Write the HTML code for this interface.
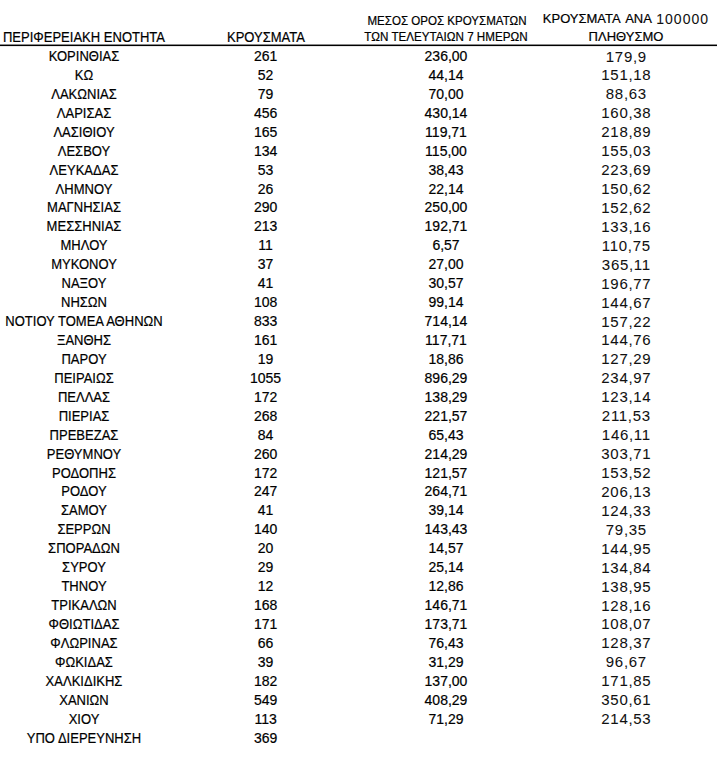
<!DOCTYPE html>
<html><head><meta charset="utf-8"><style>
html,body{margin:0;padding:0;background:#fff;width:720px;height:759px;overflow:hidden}
body{position:relative;font-family:"Liberation Sans",sans-serif;color:#000;-webkit-text-stroke:0.2px #000}
.t{position:absolute;white-space:nowrap;line-height:20px;height:20px;width:300px;text-align:center}
.line{position:absolute;left:0;top:44px;width:717px;height:3px;background:linear-gradient(#8a8a8a 0 1px,#000 1px 2px,#e8e8e8 2px 3px)}
</style></head><body>
<div class="t" style="left:-66.00px;top:27.36px;font-size:14px;transform:scaleX(0.93);">ΠΕΡΙΦΕΡΕΙΑΚΗ ΕΝΟΤΗΤΑ</div>
<div class="t" style="left:116.00px;top:27.36px;font-size:14px;transform:scaleX(0.93);">ΚΡΟΥΣΜΑΤΑ</div>
<div class="t" style="left:296.50px;top:10.89px;font-size:12px;transform:scaleX(0.963);">ΜΕΣΟΣ ΟΡΟΣ ΚΡΟΥΣΜΑΤΩΝ</div>
<div class="t" style="left:296.00px;top:27.19px;font-size:12px;transform:scaleX(0.97);">ΤΩΝ ΤΕΛΕΥΤΑΙΩΝ 7 ΗΜΕΡΩΝ</div>
<div class="t" style="left:542.8px;top:8.97px;font-size:13px;text-align:left;width:auto">ΚΡΟΥΣΜΑΤΑ</div>
<div class="t" style="left:625.2px;top:8.97px;font-size:13px;text-align:left;width:auto">ΑΝΑ</div>
<div class="t" style="left:656.3px;top:9.16px;font-size:14px;letter-spacing:1px;text-align:left;width:auto;-webkit-text-stroke:0.05px #000;color:#111">100000</div>
<div class="t" style="left:476.00px;top:26.87px;font-size:13px;">ΠΛΗΘΥΣΜΟ</div>
<div class="line"></div>
<div class="t" style="left:-66.00px;top:46.06px;font-size:14px;transform:scaleX(0.93);">ΚΟΡΙΝΘΙΑΣ</div>
<div class="t" style="left:115.60px;top:46.06px;font-size:14px;">261</div>
<div class="t" style="left:296.00px;top:46.06px;font-size:14px;">236,00</div>
<div class="t" style="left:476.35px;top:46.54px;font-size:15px;letter-spacing:0.7px;-webkit-text-stroke:0.05px #000;color:#111">179,9</div>
<div class="t" style="left:-66.00px;top:64.98px;font-size:14px;transform:scaleX(0.93);">ΚΩ</div>
<div class="t" style="left:115.60px;top:64.98px;font-size:14px;">52</div>
<div class="t" style="left:296.00px;top:64.98px;font-size:14px;">44,14</div>
<div class="t" style="left:476.35px;top:65.47px;font-size:15px;letter-spacing:0.7px;-webkit-text-stroke:0.05px #000;color:#111">151,18</div>
<div class="t" style="left:-66.00px;top:83.92px;font-size:14px;transform:scaleX(0.93);">ΛΑΚΩΝΙΑΣ</div>
<div class="t" style="left:115.60px;top:83.92px;font-size:14px;">79</div>
<div class="t" style="left:296.00px;top:83.92px;font-size:14px;">70,00</div>
<div class="t" style="left:476.35px;top:84.40px;font-size:15px;letter-spacing:0.7px;-webkit-text-stroke:0.05px #000;color:#111">88,63</div>
<div class="t" style="left:-66.00px;top:102.85px;font-size:14px;transform:scaleX(0.93);">ΛΑΡΙΣΑΣ</div>
<div class="t" style="left:115.60px;top:102.85px;font-size:14px;">456</div>
<div class="t" style="left:296.00px;top:102.85px;font-size:14px;">430,14</div>
<div class="t" style="left:476.35px;top:103.33px;font-size:15px;letter-spacing:0.7px;-webkit-text-stroke:0.05px #000;color:#111">160,38</div>
<div class="t" style="left:-66.00px;top:121.78px;font-size:14px;transform:scaleX(0.93);">ΛΑΣΙΘΙΟΥ</div>
<div class="t" style="left:115.60px;top:121.78px;font-size:14px;">165</div>
<div class="t" style="left:296.00px;top:121.78px;font-size:14px;">119,71</div>
<div class="t" style="left:476.35px;top:122.26px;font-size:15px;letter-spacing:0.7px;-webkit-text-stroke:0.05px #000;color:#111">218,89</div>
<div class="t" style="left:-66.00px;top:140.71px;font-size:14px;transform:scaleX(0.93);">ΛΕΣΒΟΥ</div>
<div class="t" style="left:115.60px;top:140.71px;font-size:14px;">134</div>
<div class="t" style="left:296.00px;top:140.71px;font-size:14px;">115,00</div>
<div class="t" style="left:476.35px;top:141.19px;font-size:15px;letter-spacing:0.7px;-webkit-text-stroke:0.05px #000;color:#111">155,03</div>
<div class="t" style="left:-66.00px;top:159.63px;font-size:14px;transform:scaleX(0.93);">ΛΕΥΚΑΔΑΣ</div>
<div class="t" style="left:115.60px;top:159.63px;font-size:14px;">53</div>
<div class="t" style="left:296.00px;top:159.63px;font-size:14px;">38,43</div>
<div class="t" style="left:476.35px;top:160.12px;font-size:15px;letter-spacing:0.7px;-webkit-text-stroke:0.05px #000;color:#111">223,69</div>
<div class="t" style="left:-66.00px;top:178.56px;font-size:14px;transform:scaleX(0.93);">ΛΗΜΝΟΥ</div>
<div class="t" style="left:115.60px;top:178.56px;font-size:14px;">26</div>
<div class="t" style="left:296.00px;top:178.56px;font-size:14px;">22,14</div>
<div class="t" style="left:476.35px;top:179.05px;font-size:15px;letter-spacing:0.7px;-webkit-text-stroke:0.05px #000;color:#111">150,62</div>
<div class="t" style="left:-66.00px;top:197.49px;font-size:14px;transform:scaleX(0.93);">ΜΑΓΝΗΣΙΑΣ</div>
<div class="t" style="left:115.60px;top:197.49px;font-size:14px;">290</div>
<div class="t" style="left:296.00px;top:197.49px;font-size:14px;">250,00</div>
<div class="t" style="left:476.35px;top:197.98px;font-size:15px;letter-spacing:0.7px;-webkit-text-stroke:0.05px #000;color:#111">152,62</div>
<div class="t" style="left:-66.00px;top:216.42px;font-size:14px;transform:scaleX(0.93);">ΜΕΣΣΗΝΙΑΣ</div>
<div class="t" style="left:115.60px;top:216.42px;font-size:14px;">213</div>
<div class="t" style="left:296.00px;top:216.42px;font-size:14px;">192,71</div>
<div class="t" style="left:476.35px;top:216.91px;font-size:15px;letter-spacing:0.7px;-webkit-text-stroke:0.05px #000;color:#111">133,16</div>
<div class="t" style="left:-66.00px;top:235.35px;font-size:14px;transform:scaleX(0.93);">ΜΗΛΟΥ</div>
<div class="t" style="left:115.60px;top:235.35px;font-size:14px;">11</div>
<div class="t" style="left:296.00px;top:235.35px;font-size:14px;">6,57</div>
<div class="t" style="left:476.35px;top:235.84px;font-size:15px;letter-spacing:0.7px;-webkit-text-stroke:0.05px #000;color:#111">110,75</div>
<div class="t" style="left:-66.00px;top:254.28px;font-size:14px;transform:scaleX(0.93);">ΜΥΚΟΝΟΥ</div>
<div class="t" style="left:115.60px;top:254.28px;font-size:14px;">37</div>
<div class="t" style="left:296.00px;top:254.28px;font-size:14px;">27,00</div>
<div class="t" style="left:476.35px;top:254.77px;font-size:15px;letter-spacing:0.7px;-webkit-text-stroke:0.05px #000;color:#111">365,11</div>
<div class="t" style="left:-66.00px;top:273.22px;font-size:14px;transform:scaleX(0.93);">ΝΑΞΟΥ</div>
<div class="t" style="left:115.60px;top:273.22px;font-size:14px;">41</div>
<div class="t" style="left:296.00px;top:273.22px;font-size:14px;">30,57</div>
<div class="t" style="left:476.35px;top:273.70px;font-size:15px;letter-spacing:0.7px;-webkit-text-stroke:0.05px #000;color:#111">196,77</div>
<div class="t" style="left:-66.00px;top:292.15px;font-size:14px;transform:scaleX(0.93);">ΝΗΣΩΝ</div>
<div class="t" style="left:115.60px;top:292.15px;font-size:14px;">108</div>
<div class="t" style="left:296.00px;top:292.15px;font-size:14px;">99,14</div>
<div class="t" style="left:476.35px;top:292.63px;font-size:15px;letter-spacing:0.7px;-webkit-text-stroke:0.05px #000;color:#111">144,67</div>
<div class="t" style="left:-66.00px;top:311.07px;font-size:14px;transform:scaleX(0.93);">ΝΟΤΙΟΥ ΤΟΜΕΑ ΑΘΗΝΩΝ</div>
<div class="t" style="left:115.60px;top:311.07px;font-size:14px;">833</div>
<div class="t" style="left:296.00px;top:311.07px;font-size:14px;">714,14</div>
<div class="t" style="left:476.35px;top:311.56px;font-size:15px;letter-spacing:0.7px;-webkit-text-stroke:0.05px #000;color:#111">157,22</div>
<div class="t" style="left:-66.00px;top:330.00px;font-size:14px;transform:scaleX(0.93);">ΞΑΝΘΗΣ</div>
<div class="t" style="left:115.60px;top:330.00px;font-size:14px;">161</div>
<div class="t" style="left:296.00px;top:330.00px;font-size:14px;">117,71</div>
<div class="t" style="left:476.35px;top:330.49px;font-size:15px;letter-spacing:0.7px;-webkit-text-stroke:0.05px #000;color:#111">144,76</div>
<div class="t" style="left:-66.00px;top:348.94px;font-size:14px;transform:scaleX(0.93);">ΠΑΡΟΥ</div>
<div class="t" style="left:115.60px;top:348.94px;font-size:14px;">19</div>
<div class="t" style="left:296.00px;top:348.94px;font-size:14px;">18,86</div>
<div class="t" style="left:476.35px;top:349.42px;font-size:15px;letter-spacing:0.7px;-webkit-text-stroke:0.05px #000;color:#111">127,29</div>
<div class="t" style="left:-66.00px;top:367.87px;font-size:14px;transform:scaleX(0.93);">ΠΕΙΡΑΙΩΣ</div>
<div class="t" style="left:115.60px;top:367.87px;font-size:14px;">1055</div>
<div class="t" style="left:296.00px;top:367.87px;font-size:14px;">896,29</div>
<div class="t" style="left:476.35px;top:368.35px;font-size:15px;letter-spacing:0.7px;-webkit-text-stroke:0.05px #000;color:#111">234,97</div>
<div class="t" style="left:-66.00px;top:386.80px;font-size:14px;transform:scaleX(0.93);">ΠΕΛΛΑΣ</div>
<div class="t" style="left:115.60px;top:386.80px;font-size:14px;">172</div>
<div class="t" style="left:296.00px;top:386.80px;font-size:14px;">138,29</div>
<div class="t" style="left:476.35px;top:387.28px;font-size:15px;letter-spacing:0.7px;-webkit-text-stroke:0.05px #000;color:#111">123,14</div>
<div class="t" style="left:-66.00px;top:405.73px;font-size:14px;transform:scaleX(0.93);">ΠΙΕΡΙΑΣ</div>
<div class="t" style="left:115.60px;top:405.73px;font-size:14px;">268</div>
<div class="t" style="left:296.00px;top:405.73px;font-size:14px;">221,57</div>
<div class="t" style="left:476.35px;top:406.21px;font-size:15px;letter-spacing:0.7px;-webkit-text-stroke:0.05px #000;color:#111">211,53</div>
<div class="t" style="left:-66.00px;top:424.66px;font-size:14px;transform:scaleX(0.93);">ΠΡΕΒΕΖΑΣ</div>
<div class="t" style="left:115.60px;top:424.66px;font-size:14px;">84</div>
<div class="t" style="left:296.00px;top:424.66px;font-size:14px;">65,43</div>
<div class="t" style="left:476.35px;top:425.14px;font-size:15px;letter-spacing:0.7px;-webkit-text-stroke:0.05px #000;color:#111">146,11</div>
<div class="t" style="left:-66.00px;top:443.58px;font-size:14px;transform:scaleX(0.93);">ΡΕΘΥΜΝΟΥ</div>
<div class="t" style="left:115.60px;top:443.58px;font-size:14px;">260</div>
<div class="t" style="left:296.00px;top:443.58px;font-size:14px;">214,29</div>
<div class="t" style="left:476.35px;top:444.07px;font-size:15px;letter-spacing:0.7px;-webkit-text-stroke:0.05px #000;color:#111">303,71</div>
<div class="t" style="left:-66.00px;top:462.51px;font-size:14px;transform:scaleX(0.93);">ΡΟΔΟΠΗΣ</div>
<div class="t" style="left:115.60px;top:462.51px;font-size:14px;">172</div>
<div class="t" style="left:296.00px;top:462.51px;font-size:14px;">121,57</div>
<div class="t" style="left:476.35px;top:463.00px;font-size:15px;letter-spacing:0.7px;-webkit-text-stroke:0.05px #000;color:#111">153,52</div>
<div class="t" style="left:-66.00px;top:481.44px;font-size:14px;transform:scaleX(0.93);">ΡΟΔΟΥ</div>
<div class="t" style="left:115.60px;top:481.44px;font-size:14px;">247</div>
<div class="t" style="left:296.00px;top:481.44px;font-size:14px;">264,71</div>
<div class="t" style="left:476.35px;top:481.93px;font-size:15px;letter-spacing:0.7px;-webkit-text-stroke:0.05px #000;color:#111">206,13</div>
<div class="t" style="left:-66.00px;top:500.38px;font-size:14px;transform:scaleX(0.93);">ΣΑΜΟΥ</div>
<div class="t" style="left:115.60px;top:500.38px;font-size:14px;">41</div>
<div class="t" style="left:296.00px;top:500.38px;font-size:14px;">39,14</div>
<div class="t" style="left:476.35px;top:500.86px;font-size:15px;letter-spacing:0.7px;-webkit-text-stroke:0.05px #000;color:#111">124,33</div>
<div class="t" style="left:-66.00px;top:519.31px;font-size:14px;transform:scaleX(0.93);">ΣΕΡΡΩΝ</div>
<div class="t" style="left:115.60px;top:519.31px;font-size:14px;">140</div>
<div class="t" style="left:296.00px;top:519.31px;font-size:14px;">143,43</div>
<div class="t" style="left:476.35px;top:519.79px;font-size:15px;letter-spacing:0.7px;-webkit-text-stroke:0.05px #000;color:#111">79,35</div>
<div class="t" style="left:-66.00px;top:538.24px;font-size:14px;transform:scaleX(0.93);">ΣΠΟΡΑΔΩΝ</div>
<div class="t" style="left:115.60px;top:538.24px;font-size:14px;">20</div>
<div class="t" style="left:296.00px;top:538.24px;font-size:14px;">14,57</div>
<div class="t" style="left:476.35px;top:538.72px;font-size:15px;letter-spacing:0.7px;-webkit-text-stroke:0.05px #000;color:#111">144,95</div>
<div class="t" style="left:-66.00px;top:557.17px;font-size:14px;transform:scaleX(0.93);">ΣΥΡΟΥ</div>
<div class="t" style="left:115.60px;top:557.17px;font-size:14px;">29</div>
<div class="t" style="left:296.00px;top:557.17px;font-size:14px;">25,14</div>
<div class="t" style="left:476.35px;top:557.65px;font-size:15px;letter-spacing:0.7px;-webkit-text-stroke:0.05px #000;color:#111">134,84</div>
<div class="t" style="left:-66.00px;top:576.10px;font-size:14px;transform:scaleX(0.93);">ΤΗΝΟΥ</div>
<div class="t" style="left:115.60px;top:576.10px;font-size:14px;">12</div>
<div class="t" style="left:296.00px;top:576.10px;font-size:14px;">12,86</div>
<div class="t" style="left:476.35px;top:576.58px;font-size:15px;letter-spacing:0.7px;-webkit-text-stroke:0.05px #000;color:#111">138,95</div>
<div class="t" style="left:-66.00px;top:595.03px;font-size:14px;transform:scaleX(0.93);">ΤΡΙΚΑΛΩΝ</div>
<div class="t" style="left:115.60px;top:595.03px;font-size:14px;">168</div>
<div class="t" style="left:296.00px;top:595.03px;font-size:14px;">146,71</div>
<div class="t" style="left:476.35px;top:595.51px;font-size:15px;letter-spacing:0.7px;-webkit-text-stroke:0.05px #000;color:#111">128,16</div>
<div class="t" style="left:-66.00px;top:613.96px;font-size:14px;transform:scaleX(0.93);">ΦΘΙΩΤΙΔΑΣ</div>
<div class="t" style="left:115.60px;top:613.96px;font-size:14px;">171</div>
<div class="t" style="left:296.00px;top:613.96px;font-size:14px;">173,71</div>
<div class="t" style="left:476.35px;top:614.44px;font-size:15px;letter-spacing:0.7px;-webkit-text-stroke:0.05px #000;color:#111">108,07</div>
<div class="t" style="left:-66.00px;top:632.89px;font-size:14px;transform:scaleX(0.93);">ΦΛΩΡΙΝΑΣ</div>
<div class="t" style="left:115.60px;top:632.89px;font-size:14px;">66</div>
<div class="t" style="left:296.00px;top:632.89px;font-size:14px;">76,43</div>
<div class="t" style="left:476.35px;top:633.37px;font-size:15px;letter-spacing:0.7px;-webkit-text-stroke:0.05px #000;color:#111">128,37</div>
<div class="t" style="left:-66.00px;top:651.82px;font-size:14px;transform:scaleX(0.93);">ΦΩΚΙΔΑΣ</div>
<div class="t" style="left:115.60px;top:651.82px;font-size:14px;">39</div>
<div class="t" style="left:296.00px;top:651.82px;font-size:14px;">31,29</div>
<div class="t" style="left:476.35px;top:652.30px;font-size:15px;letter-spacing:0.7px;-webkit-text-stroke:0.05px #000;color:#111">96,67</div>
<div class="t" style="left:-66.00px;top:670.75px;font-size:14px;transform:scaleX(0.93);">ΧΑΛΚΙΔΙΚΗΣ</div>
<div class="t" style="left:115.60px;top:670.75px;font-size:14px;">182</div>
<div class="t" style="left:296.00px;top:670.75px;font-size:14px;">137,00</div>
<div class="t" style="left:476.35px;top:671.23px;font-size:15px;letter-spacing:0.7px;-webkit-text-stroke:0.05px #000;color:#111">171,85</div>
<div class="t" style="left:-66.00px;top:689.68px;font-size:14px;transform:scaleX(0.93);">ΧΑΝΙΩΝ</div>
<div class="t" style="left:115.60px;top:689.68px;font-size:14px;">549</div>
<div class="t" style="left:296.00px;top:689.68px;font-size:14px;">408,29</div>
<div class="t" style="left:476.35px;top:690.16px;font-size:15px;letter-spacing:0.7px;-webkit-text-stroke:0.05px #000;color:#111">350,61</div>
<div class="t" style="left:-66.00px;top:708.61px;font-size:14px;transform:scaleX(0.93);">ΧΙΟΥ</div>
<div class="t" style="left:115.60px;top:708.61px;font-size:14px;">113</div>
<div class="t" style="left:296.00px;top:708.61px;font-size:14px;">71,29</div>
<div class="t" style="left:476.35px;top:709.09px;font-size:15px;letter-spacing:0.7px;-webkit-text-stroke:0.05px #000;color:#111">214,53</div>
<div class="t" style="left:-66.00px;top:727.54px;font-size:14px;transform:scaleX(0.93);">ΥΠΟ ΔΙΕΡΕΥΝΗΣΗ</div>
<div class="t" style="left:115.60px;top:727.54px;font-size:14px;">369</div>
</body></html>
